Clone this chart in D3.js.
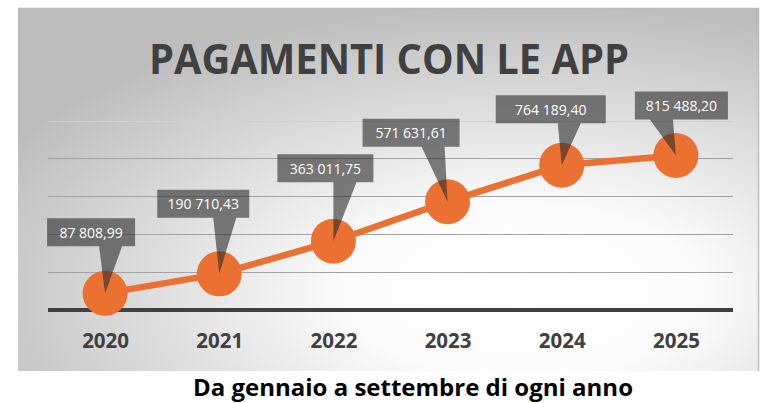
<!DOCTYPE html>
<meta charset="utf-8">
<html>
<head>
<script src="https://d3js.org/d3.v7.min.js"></script>
<style>
  body { margin: 0; background: #fff; }
  svg { display: block; font-family: 'Open Sans', sans-serif; }
</style>
</head>
<body>
<div id="chart"></div>
<script>
// data
var years = ["2020", "2021", "2022", "2023", "2024", "2025"];
var payments = [87808.99, 190710.43, 363011.75, 571631.61, 764189.40, 815488.20];
var valueLabels = ["87 808,99", "190 710,43", "363 011,75", "571 631,61", "764 189,40", "815 488,20"];
var gridValues = [200000, 400000, 600000, 800000, 1000000];

// callout placement relative to each point: box dx, dy, width, wedge start
var calloutLayout = [
    [-58, -75, 88, -6],
    [-62, -84, 92, -6],
    [-56, -87, 96, 0],
    [-85, -83, 97, -26],
    [-66, -70, 110, -4],
    [-41, -64, 93, -26]
];

var width = 765, height = 403;

var svg = d3.select("#chart").append("svg")
    .attr("width", width)
    .attr("height", height);

// panel background
var defs = svg.append("defs");
var grad = defs.append("radialGradient")
    .attr("id", "bg")
    .attr("cx", "0.68").attr("cy", "0.78")
    .attr("r", "0.8")
    .attr("gradientUnits", "objectBoundingBox");
grad.append("stop").attr("offset", "0").attr("stop-color", "#ffffff");
grad.append("stop").attr("offset", "0.3").attr("stop-color", "#fbfbfb");
grad.append("stop").attr("offset", "1").attr("stop-color", "#bdbdbd");

svg.append("rect")
    .attr("x", 18).attr("y", 8)
    .attr("width", 741).attr("height", 363)
    .attr("fill", "url(#bg)");
svg.append("path")
    .attr("d", "M18,8.5H758.5V371")
    .attr("fill", "none")
    .attr("stroke", "#bcbcbc")
    .attr("stroke-width", 1.5);

// scales
var x = d3.scalePoint()
    .domain(years)
    .range([48, 733])
    .padding(0.5);

var y = d3.scaleLinear()
    .domain([0, 1000000])
    .range([310, 120.5]);

// gridlines
svg.append("g")
    .selectAll("line")
    .data(gridValues)
    .join("line")
    .attr("x1", 48).attr("x2", 733)
    .attr("y1", function (d) { return Math.round(y(d)) + 0.5; })
    .attr("y2", function (d) { return Math.round(y(d)) + 0.5; })
    .attr("stroke", function (d, i) { return i == gridValues.length - 1 ? "#d0d0d0" : "#a2a2a2"; })
    .attr("stroke-width", 1.2);

// x axis
var xAxis = svg.append("g")
    .attr("transform", "translate(0," + y(0) + ")")
    .call(d3.axisBottom(x).tickSize(0).tickPadding(0));
xAxis.select(".domain").remove();
xAxis.append("line")
    .attr("x1", 48).attr("x2", 733)
    .attr("stroke", "#404040")
    .attr("stroke-width", 4);
xAxis.selectAll(".tick text")
    .attr("dy", 0)
    .attr("y", 38)
    .attr("fill", "#404040")
    .style("font-family", "'Open Sans', sans-serif")
    .style("font-size", "20.5px")
    .style("font-weight", "bold");

var points = years.map(function (yr, i) {
    return { year: yr, value: payments[i], label: valueLabels[i], layout: calloutLayout[i] };
});

// line
var line = d3.line()
    .x(function (d) { return x(d.year); })
    .y(function (d) { return y(d.value); });

svg.append("path")
    .datum(points)
    .attr("d", line)
    .attr("fill", "none")
    .attr("stroke", "#ea7131")
    .attr("stroke-width", 6.5);

svg.selectAll(".dot")
    .data(points)
    .join("circle")
    .attr("class", "dot")
    .attr("cx", function (d) { return x(d.year); })
    .attr("cy", function (d) { return y(d.value); })
    .attr("r", 22.5)
    .attr("fill", "#ea7131");

// callouts
var boxH = 28, wedgeW = 23;
var callouts = svg.selectAll(".callout")
    .data(points)
    .join("g")
    .attr("class", "callout");

callouts.append("path")
    .attr("d", function (d) {
        var px = x(d.year), py = y(d.value);
        var x0 = px + d.layout[0], y0 = py + d.layout[1];
        var x1 = x0 + d.layout[2], y1 = y0 + boxH;
        var w0 = px + d.layout[3], w1 = w0 + wedgeW;
        return "M" + x0 + "," + y0 + "H" + x1 + "V" + y1 + "H" + w1 +
            "L" + px + "," + py + "L" + w0 + "," + y1 + "H" + x0 + "Z";
    })
    .attr("fill", "#2a2a2a")
    .attr("fill-opacity", 0.6);

callouts.append("text")
    .attr("x", function (d) { return x(d.year) + d.layout[0] + d.layout[2] / 2; })
    .attr("y", function (d) { return y(d.value) + d.layout[1] + 19.5; })
    .attr("text-anchor", "middle")
    .attr("fill", "#ffffff")
    .style("font-size", "14px")
    .text(function (d) { return d.label; });

// title
svg.append("text")
    .attr("x", 149)
    .attr("y", 74)
    .attr("textLength", 480)
    .attr("lengthAdjust", "spacingAndGlyphs")
    .attr("fill", "#404040")
    .style("font-size", "42px")
    .style("font-weight", "bold")
    .text("PAGAMENTI CON LE APP");

// subtitle below the panel
svg.append("text")
    .attr("x", 193)
    .attr("y", 396)
    .attr("textLength", 440)
    .attr("lengthAdjust", "spacingAndGlyphs")
    .attr("fill", "#000000")
    .style("font-size", "24px")
    .style("font-weight", "bold")
    .text("Da gennaio a settembre di ogni anno");
</script>
</body>
</html>
